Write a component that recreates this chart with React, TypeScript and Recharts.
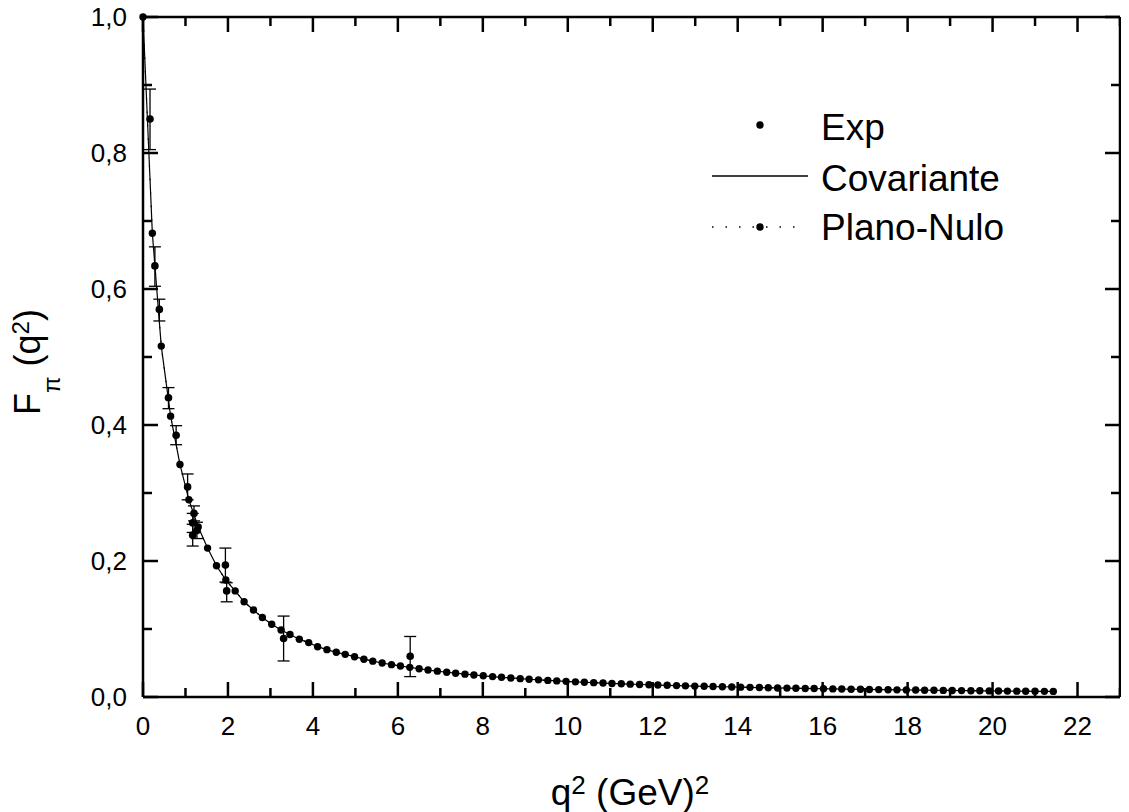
import React from 'react';
import { ComposedChart, Line, Scatter, ErrorBar, XAxis, YAxis, ReferenceLine, Legend, Label } from 'recharts';

// model grid (q^2 in GeV^2) and the two model curves
const q2 = [
  0.00, 0.22, 0.43, 0.65, 0.87, 1.08, 1.30, 1.52, 1.73, 1.95,
  2.17, 2.38, 2.60, 2.81, 3.03, 3.25, 3.46, 3.68, 3.90, 4.11,
  4.33, 4.55, 4.76, 4.98, 5.20, 5.41, 5.63, 5.85, 6.06, 6.28,
  6.50, 6.71, 6.93, 7.15, 7.36, 7.58, 7.79, 8.01, 8.23, 8.44,
  8.66, 8.88, 9.09, 9.31, 9.53, 9.74, 9.96, 10.18, 10.39, 10.61,
  10.83, 11.04, 11.26, 11.47, 11.69, 11.91, 12.12, 12.34, 12.56, 12.77,
  12.99, 13.21, 13.42, 13.64, 13.86, 14.07, 14.29, 14.51, 14.72, 14.94,
  15.16, 15.37, 15.59, 15.80, 16.02, 16.24, 16.45, 16.67, 16.89, 17.10,
  17.32, 17.54, 17.75, 17.97, 18.19, 18.40, 18.62, 18.84, 19.05, 19.27,
  19.49, 19.70, 19.92, 20.14, 20.35, 20.57, 20.78, 21.00, 21.22, 21.43,
];

const planoNulo = [
  1.000, 0.682, 0.516, 0.413, 0.342, 0.290, 0.250, 0.219, 0.193, 0.172,
  0.156, 0.140, 0.128, 0.117, 0.107, 0.0985, 0.092, 0.085, 0.080, 0.074,
  0.0696, 0.0657, 0.0627, 0.0593, 0.0556, 0.0527, 0.0500, 0.0476, 0.0456, 0.0436,
  0.0415, 0.0396, 0.0380, 0.0364, 0.0350, 0.0336, 0.0324, 0.0312, 0.0300, 0.0290,
  0.0280, 0.0270, 0.0261, 0.0252, 0.0244, 0.0237, 0.0230, 0.0223, 0.0217, 0.0211,
  0.0205, 0.0199, 0.0194, 0.0189, 0.0184, 0.0180, 0.0176, 0.0172, 0.0168, 0.0164,
  0.0160, 0.0157, 0.0154, 0.0151, 0.0148, 0.0145, 0.0142, 0.0139, 0.0136, 0.0133,
  0.0131, 0.0128, 0.0126, 0.0124, 0.0121, 0.0119, 0.0117, 0.0115, 0.0113, 0.0111,
  0.0109, 0.0107, 0.0105, 0.0104, 0.0102, 0.0100, 0.0099, 0.0097, 0.0096, 0.0094,
  0.0093, 0.0091, 0.0090, 0.0089, 0.0087, 0.0086, 0.0085, 0.0084, 0.0083, 0.0082,
];

// the covariant curve lies on top of the light-front one at this resolution
const covariante = planoNulo;

// experimental points
const expQ2 = [0.165, 0.28, 0.385, 0.60, 0.78, 1.05, 1.20, 1.17, 1.17, 1.27, 1.94, 1.97, 3.31, 6.29];
const expF = [0.850, 0.634, 0.570, 0.440, 0.385, 0.309, 0.270, 0.256, 0.238, 0.245, 0.194, 0.156, 0.086, 0.060];
const expErrLow = [0.045, 0.030, 0.017, 0.016, 0.014, 0.019, 0.011, 0.014, 0.016, 0.012, 0.025, 0.016, 0.033, 0.030];
const expErrHigh = [0.044, 0.028, 0.015, 0.015, 0.014, 0.019, 0.011, 0.014, 0.016, 0.012, 0.025, 0.012, 0.033, 0.029];

const xTicks = [0, 1, 2, 3, 4, 5, 6, 7, 8, 9, 10, 11, 12, 13, 14, 15, 16, 17, 18, 19, 20, 21, 22, 23];
const yTicks = [0, 0.1, 0.2, 0.3, 0.4, 0.5, 0.6, 0.7, 0.8, 0.9, 1.0];

const FONT = '"Liberation Sans", Arial, Helvetica, sans-serif';
const W = 1129;
const H = 812;
const margin = { top: 17, right: 9, bottom: 55, left: 63 };
const Y_AXIS_W = 80;
const X_AXIS_H = 60;
const PL = margin.left + Y_AXIS_W;
const PR = W - margin.right;
const PT = margin.top;
const PB = H - margin.bottom - X_AXIS_H;
const AXW = 2.5;

const rows = q2.map((x, i) => ({ x, cov: covariante[i], pn: planoNulo[i] }));
const expRows = expQ2.map((x, i) => ({ x, y: expF[i], err: [expErrLow[i], expErrHigh[i]] }));

const XTick = (props: any) => {
  const { x, payload } = props;
  const v = payload.value;
  const major = v % 2 === 0;
  const len = major ? 15 : 9;
  return (
    <g>
      <line x1={x} x2={x} y1={PB} y2={PB - len} stroke="#000" strokeWidth={AXW} />
      <line x1={x} x2={x} y1={PT} y2={PT + len} stroke="#000" strokeWidth={AXW} />
      {major && v <= 22 && (
        <text x={x} y={PB + 38} textAnchor="middle" fontSize={26} fontFamily={FONT} fill="#000">
          {v}
        </text>
      )}
    </g>
  );
};

const YTick = (props: any) => {
  const { y, payload } = props;
  const v = payload.value;
  const major = Math.round(v * 10) % 2 === 0;
  const len = major ? 15 : 9;
  return (
    <g>
      <line x1={PL} x2={PL + len} y1={y} y2={y} stroke="#000" strokeWidth={AXW} />
      <line x1={PR} x2={PR - len} y1={y} y2={y} stroke="#000" strokeWidth={AXW} />
      {major && (
        <text x={PL - 16} y={y + 9} textAnchor="end" fontSize={26} fontFamily={FONT} fill="#000">
          {v.toFixed(1).replace('.', ',')}
        </text>
      )}
    </g>
  );
};

const LegendBox = () => (
  <svg width={360} height={150} style={{ display: 'block' }}>
    <circle cx={60} cy={25} r={3.7} fill="#000" />
    <text x={121} y={40} fontSize={37} fontFamily={FONT} fill="#000">Exp</text>
    <line x1={12} x2={108} y1={76} y2={76} stroke="#000" strokeWidth={1.3} />
    <text x={121} y={90.5} fontSize={37} fontFamily={FONT} fill="#000">Covariante</text>
    <line x1={12} x2={100} y1={127} y2={127} stroke="#000" strokeWidth={1.3} strokeDasharray="1.5 12" />
    <circle cx={60} cy={127} r={3.7} fill="#000" />
    <text x={121} y={140} fontSize={37} fontFamily={FONT} fill="#000">Plano-Nulo</text>
  </svg>
);

export default function App() {
  return (
    <div style={{ margin: '-8px 0 0 -8px', width: W, height: H }}>
      <ComposedChart width={W} height={H} data={rows} margin={margin}>
        <XAxis
          type="number"
          dataKey="x"
          domain={[0, 23]}
          ticks={xTicks}
          interval={0}
          tick={<XTick />}
          tickLine={false}
          tickSize={0}
          tickMargin={0}
          height={X_AXIS_H}
          axisLine={{ stroke: '#000', strokeWidth: AXW }}
        >
          <Label
            content={() => (
              <text x={630} y={805} textAnchor="middle" fontSize={37} fontFamily={FONT} fill="#000">
                q<tspan fontSize={26} dy={-11}>2</tspan>
                <tspan dy={11}> (GeV)</tspan>
                <tspan fontSize={26} dy={-11}>2</tspan>
              </text>
            )}
          />
        </XAxis>
        <YAxis
          type="number"
          domain={[0, 1]}
          ticks={yTicks}
          interval={0}
          tick={<YTick />}
          tickLine={false}
          tickSize={0}
          tickMargin={0}
          width={Y_AXIS_W}
          axisLine={{ stroke: '#000', strokeWidth: AXW }}
        >
          <Label
            content={() => (
              <text
                x={40}
                y={415}
                transform="rotate(-90, 40, 415)"
                fontSize={36}
                fontFamily={FONT}
                fill="#000"
              >
                F<tspan fontSize={24} dy={20}>π</tspan>
                <tspan dy={-20}> (q</tspan>
                <tspan fontSize={24} dy={-11}>2</tspan>
                <tspan dy={11}>)</tspan>
              </text>
            )}
          />
        </YAxis>
        <ReferenceLine y={1} stroke="#000" strokeWidth={AXW} />
        <ReferenceLine x={23} stroke="#000" strokeWidth={AXW} />
        <Line
          type="linear"
          dataKey="cov"
          stroke="#000"
          strokeWidth={1.2}
          dot={false}
          isAnimationActive={false}
        />
        <Line
          type="linear"
          dataKey="pn"
          stroke="#000"
          strokeWidth={1.2}
          strokeDasharray="1.5 12"
          dot={{ r: 3.7, fill: '#000', stroke: 'none' }}
          isAnimationActive={false}
        />
        <Scatter
          data={expRows}
          dataKey="y"
          isAnimationActive={false}
          shape={(p: any) => <circle cx={p.cx} cy={p.cy} r={3.8} fill="#000" />}
        >
          <ErrorBar dataKey="err" direction="y" width={6} stroke="#000" strokeWidth={1.3} />
        </Scatter>
        <Legend
          layout="vertical"
          align="center"
          verticalAlign="middle"
          content={() => <LegendBox />}
          wrapperStyle={{ left: 700, top: 100, width: 360, height: 150 }}
        />
      </ComposedChart>
    </div>
  );
}
